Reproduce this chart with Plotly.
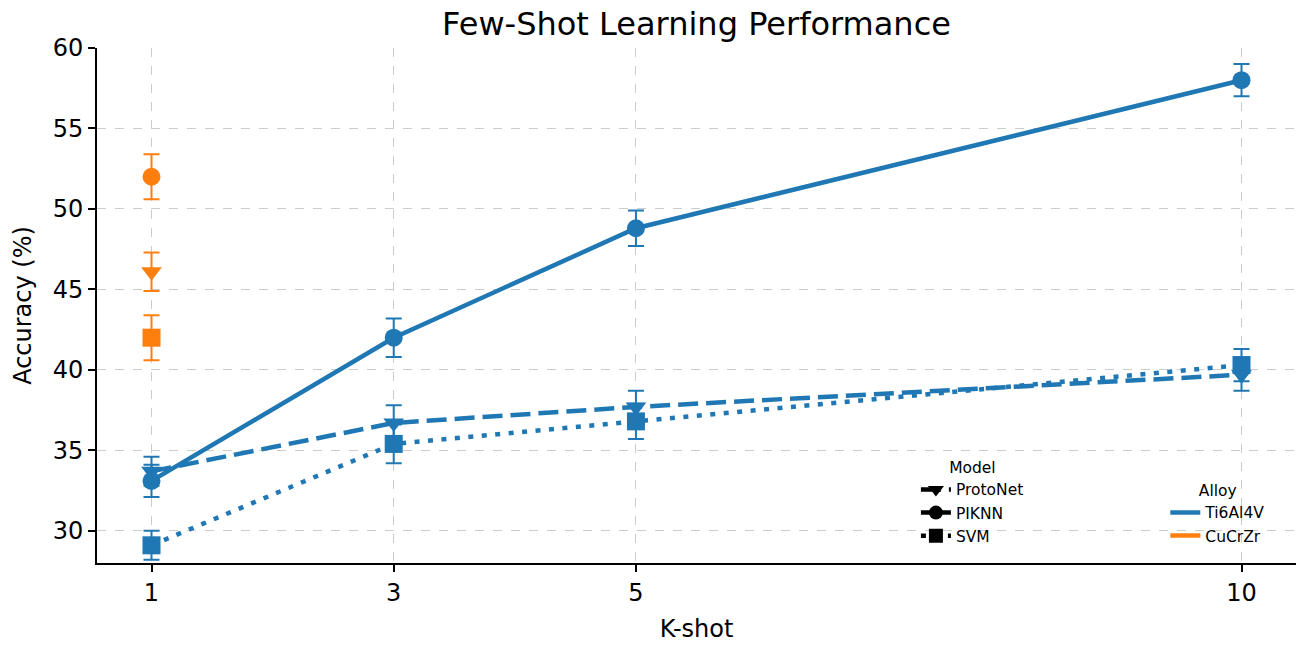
import plotly.graph_objects as go

k_shots = [1, 3, 5, 10]

ti_piknn = [33.1, 42.0, 48.8, 58.0]
ti_piknn_err = [1.0, 1.2, 1.1, 1.0]
ti_proto = [33.7, 36.7, 37.7, 39.7]
ti_proto_err = [0.9, 1.1, 1.0, 1.0]
ti_svm = [29.1, 35.4, 36.8, 40.3]
ti_svm_err = [0.9, 1.2, 1.1, 1.0]

cu_k = [1]
cu_piknn = [52.0]
cu_piknn_err = [1.4]
cu_proto = [46.1]
cu_proto_err = [1.2]
cu_svm = [42.0]
cu_svm_err = [1.4]

BLUE = "#1f77b4"
ORANGE = "#ff7f0e"
FONT = "DejaVu Sans"
LW = 4.5
DASH = "20px,8px"
DOT = "5px,8.5px"

fig = go.Figure()


def add_series(x, y, err, color, dash, symbol):
    fig.add_trace(go.Scatter(
        x=x, y=y, mode="lines+markers",
        line=dict(color=color, width=LW, dash=dash),
        marker=dict(symbol=symbol, size=18, color=color),
        error_y=dict(type="data", array=err, visible=True, color=color,
                     thickness=2, width=8),
        showlegend=False, hoverinfo="x+y",
    ))


add_series(k_shots, ti_svm, ti_svm_err, BLUE, DOT, "square")
add_series(k_shots, ti_proto, ti_proto_err, BLUE, DASH, "triangle-down")
add_series(k_shots, ti_piknn, ti_piknn_err, BLUE, "solid", "circle")
add_series(cu_k, cu_svm, cu_svm_err, ORANGE, DOT, "square")
add_series(cu_k, cu_proto, cu_proto_err, ORANGE, DASH, "triangle-down")
add_series(cu_k, cu_piknn, cu_piknn_err, ORANGE, "solid", "circle")

# Legend: Model
for name, dash, sym in [("ProtoNet", DASH, "triangle-down"),
                        ("PIKNN", "solid", "circle"),
                        ("SVM", DOT, "square")]:
    fig.add_trace(go.Scatter(
        x=[None], y=[None], mode="lines+markers", name=name,
        line=dict(color="black", width=LW, dash=dash),
        marker=dict(symbol=sym, size=14, color="black"),
        legend="legend", showlegend=True,
    ))

# Legend: Alloy
for name, color in [("Ti6Al4V", BLUE), ("CuCrZr", ORANGE)]:
    fig.add_trace(go.Scatter(
        x=[None], y=[None], mode="lines", name=name,
        line=dict(color=color, width=LW),
        legend="legend2", showlegend=True,
    ))

fig.update_layout(
    width=1298, height=644,
    margin=dict(l=89, r=10, t=40, b=89),
    paper_bgcolor="white", plot_bgcolor="white",
    font=dict(family=FONT, color="black", size=24),
    title=dict(text="Few-Shot Learning Performance", x=0.5, xref="paper",
               xanchor="center", y=0.975, yanchor="middle",
               font=dict(size=32)),
    legend=dict(x=0.683, y=0.02, xanchor="left", yanchor="bottom",
                bgcolor="rgba(255,255,255,0)", font=dict(size=15.5),
                title=dict(text="Model", side="top center", font=dict(size=15.5))),
    legend2=dict(x=0.891, y=0.02, xanchor="left", yanchor="bottom",
                 bgcolor="rgba(255,255,255,0)", font=dict(size=15.5),
                 title=dict(text="Alloy", side="top center", font=dict(size=15.5))),
)

fig.update_xaxes(
    range=[0.55, 10.45], tickvals=k_shots, ticktext=[str(k) for k in k_shots],
    title=dict(text="K-shot", font=dict(size=24), standoff=14),
    showline=True, linecolor="black", linewidth=2,
    ticks="outside", ticklen=7, tickwidth=1.5, tickcolor="black",
    showgrid=True, gridcolor="#cccccc", griddash="dash", gridwidth=1,
    zeroline=False, tickfont=dict(size=24), automargin=False,
)
fig.update_yaxes(
    range=[28, 60], tickvals=[30, 35, 40, 45, 50, 55, 60],
    title=dict(text="Accuracy (%)", font=dict(size=24), standoff=14),
    showline=True, linecolor="black", linewidth=2,
    ticks="outside", ticklen=7, tickwidth=1.5, tickcolor="black",
    showgrid=True, gridcolor="#cccccc", griddash="dash", gridwidth=1,
    zeroline=False, tickfont=dict(size=24), automargin=False,
)

fig.write_html("out.html")
